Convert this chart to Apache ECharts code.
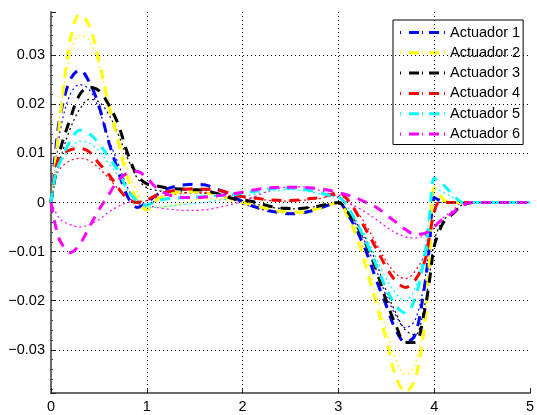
<!DOCTYPE html>
<html><head><meta charset="utf-8">
<script src="https://cdn.jsdelivr.net/npm/echarts@6/dist/echarts.min.js"></script>
<style>html,body{margin:0;padding:0;background:#fff}#c{width:537px;height:415px}</style>
</head><body><div id="c"></div>
<script>
// time samples (s)
const T = [0,0.05,0.1,0.2,0.3,0.4,0.5,0.6,0.7,0.8,0.9,
  1.0,1.1,1.2,1.3,1.4,1.5,1.6,1.7,1.8,1.9,
  2.0,2.1,2.2,2.3,2.4,2.5,2.6,2.7,2.8,2.9,
  3.0,3.1,3.2,3.3,3.4,3.5,3.6,3.7,3.8,3.9,3.95,4.0,4.05,4.1,4.2,4.3,4.4,4.5,5.0];

const names = ['Actuador 1','Actuador 2','Actuador 3','Actuador 4','Actuador 5','Actuador 6'];
const colors = ['#0000ff','#ffff00','#000000','#ff0000','#00ffff','#ff00ff'];
const xTicks = [0,1,2,3,4,5];
const yTicks = [-0.03,-0.02,-0.01,0,0.01,0.02,0.03];

// thick dash curves
const a1 = [0,0.011,0.018,0.025,0.027,0.0245,0.0197,0.0125,0.0065,0.0012,-0.001,
  0,0.0015,0.0027,0.0033,0.0036,0.0037,0.0036,0.003,0.0022,0.0012,
  0.0002,-0.0007,-0.0013,-0.0018,-0.0021,-0.0023,-0.0022,-0.0018,-0.0012,-0.0005,
  0,-0.0025,-0.006,-0.0105,-0.016,-0.021,-0.026,-0.0285,-0.027,-0.017,-0.009,0.001,0.0005,0,0,0,0,0,0];
const a2 = [0,0.009,0.018,0.033,0.0383,0.036,0.029,0.020,0.0125,0.005,0.0005,
  -0.0015,0.0005,0.0015,0.002,0.0022,0.0022,0.002,0.0017,0.0012,0.0007,
  0.0001,-0.0005,-0.001,-0.0015,-0.0018,-0.002,-0.002,-0.0017,-0.0012,-0.0005,
  0,-0.003,-0.0075,-0.014,-0.021,-0.028,-0.0355,-0.0386,-0.036,-0.025,-0.012,0.003,0.002,0.0005,0,0,0,0,0];
const a3 = [0,0.006,0.011,0.017,0.022,0.0235,0.0228,0.020,0.016,0.010,0.0055,
  0.0038,0.0034,0.003,0.0028,0.0027,0.0026,0.0025,0.002,0.0014,0.0008,
  0.0005,0.0002,-0.0003,-0.0008,-0.0011,-0.0012,-0.0012,-0.001,-0.0007,-0.0003,
  0,-0.002,-0.005,-0.009,-0.014,-0.020,-0.025,-0.0285,-0.0285,-0.022,-0.016,-0.009,-0.006,-0.004,-0.0022,-0.0005,0,0,0];
const a4 = [0,0.007,0.0095,0.0107,0.011,0.0103,0.008,0.0058,0.003,0.0008,0,
  0.0005,0.0015,0.0021,0.0025,0.0027,0.0028,0.0027,0.0026,0.0023,0.0016,
  0.0012,0.001,0.0007,0.0005,0.0004,0.0004,0.0005,0.0008,0.001,0.0015,
  0.002,0.0005,-0.0025,-0.006,-0.0095,-0.0132,-0.016,-0.0173,-0.0158,-0.012,-0.007,-0.002,0,0,0,0,0,0,0];
const a5 = [0,0.006,0.0085,0.0125,0.0147,0.014,0.012,0.0093,0.0065,0.0025,0.0003,
  -0.0005,0.0003,0.0007,0.0009,0.001,0.0011,0.0012,0.0014,0.0015,0.0016,
  0.0019,0.0022,0.0025,0.0028,0.0029,0.0029,0.0028,0.0025,0.002,0.0015,
  0.0012,-0.001,-0.0045,-0.0085,-0.013,-0.0175,-0.021,-0.0225,-0.0195,-0.011,-0.003,0.005,0.004,0.0035,0.0015,0,0,0,0];
const a6 = [0,-0.005,-0.008,-0.0102,-0.0085,-0.005,-0.0015,0.0015,0.0045,0.006,0.0063,
  0.005,0.003,0.0018,0.0012,0.001,0.001,0.0011,0.0013,0.0015,0.0018,
  0.0021,0.0025,0.0028,0.003,0.0031,0.0031,0.0031,0.003,0.0028,0.0025,
  0.002,0.0015,0.0008,-0.0001,-0.001,-0.0025,-0.004,-0.0055,-0.0065,-0.0063,-0.0058,-0.005,-0.004,-0.0033,-0.002,-0.0005,0,0,0];

// thin dotted curves
const b1 = [0,0.008,0.015,0.022,0.024,0.023,0.019,0.013,0.008,0.003,0,
  -0.0005,0.0005,0.0015,0.002,0.0025,0.0026,0.0025,0.002,0.0014,0.0006,
  -0.0002,-0.0009,-0.0014,-0.0018,-0.002,-0.0021,-0.002,-0.0016,-0.001,-0.0004,
  0,-0.002,-0.005,-0.009,-0.014,-0.019,-0.023,-0.0255,-0.024,-0.016,-0.008,0,0,0,0,0,0,0,0];
const b2 = [0,0.009,0.019,0.030,0.034,0.033,0.028,0.021,0.014,0.007,0.002,
  -0.001,-0.001,-0.0008,-0.0005,0,0.0005,0.0008,0.0008,0.0006,0.0002,
  -0.0003,-0.0008,-0.0012,-0.0015,-0.0017,-0.0018,-0.0017,-0.0014,-0.001,-0.0004,
  0,-0.002,-0.006,-0.012,-0.019,-0.026,-0.032,-0.035,-0.033,-0.023,-0.011,0.001,0.001,0,0,0,0,0,0];
const b3 = [0,0.005,0.009,0.015,0.019,0.021,0.0205,0.018,0.014,0.009,0.005,
  0.003,0.0025,0.0022,0.002,0.002,0.002,0.0019,0.0016,0.0011,0.0006,
  0.0002,-0.0002,-0.0006,-0.001,-0.0012,-0.0013,-0.0012,-0.001,-0.0007,-0.0003,
  0,-0.0018,-0.0045,-0.008,-0.0125,-0.018,-0.0225,-0.026,-0.027,-0.021,-0.015,-0.008,-0.005,-0.0035,-0.002,-0.0004,0,0,0];
const b4 = [0,0.005,0.007,0.0085,0.009,0.0085,0.007,0.005,0.0028,0.001,0.0002,
  0.0004,0.001,0.0014,0.0017,0.0019,0.002,0.002,0.0019,0.0017,0.0013,
  0.001,0.0008,0.0006,0.0004,0.0003,0.0003,0.0004,0.0006,0.0008,0.0012,
  0.0015,0.0003,-0.002,-0.005,-0.0085,-0.012,-0.0145,-0.0155,-0.014,-0.0105,-0.006,-0.0015,0,0,0,0,0,0,0];
const b5 = [0,0.005,0.008,0.011,0.0125,0.012,0.0105,0.008,0.0055,0.0025,0.0005,
  -0.001,-0.001,-0.0008,-0.0006,-0.0004,-0.0002,0,0.0003,0.0006,0.0009,
  0.0012,0.0016,0.002,0.0023,0.0025,0.0026,0.0025,0.0022,0.0018,0.0013,
  0.001,-0.001,-0.004,-0.0075,-0.0115,-0.0155,-0.0185,-0.020,-0.0175,-0.0095,-0.0025,0.003,0.0025,0.002,0.001,0,0,0,0];
const b6 = [0,-0.002,-0.0035,-0.0045,-0.005,-0.0045,-0.0035,-0.002,-0.0008,0,0.0002,
  -0.0005,-0.001,-0.0013,-0.0015,-0.0016,-0.0016,-0.0015,-0.0012,-0.0008,-0.0003,
  0.0003,0.001,0.0018,0.0025,0.003,0.0032,0.0032,0.003,0.0025,0.0018,
  0.001,0,-0.001,-0.0022,-0.0035,-0.005,-0.0062,-0.007,-0.0072,-0.0068,-0.006,-0.0052,-0.004,-0.003,-0.0015,0,0,0,0];

const dashed = [a1,a2,a3,a4,a5,a6];
const dotted = [b1,b2,b3,b4,b5,b6];
const pairs = arr => T.map((t,i) => [t, arr[i]]);

const FONT = '"Liberation Sans", Arial, sans-serif';
// dash-dot legend sample
const LEGEND_ICON = 'path://M0,0h1v3h-1z M9,0h10v3h-10z M22,0h1v3h-1z M29,0h10v3h-10z M44,0h1v3h-1z';

const series = [];
// grid lines (dotted) at tick positions
series.push({
  type: 'line', data: [], silent: true, z: 1,
  markLine: {
    silent: true, symbol: 'none', animation: false,
    label: {show: false},
    lineStyle: {color: '#000', width: 1, type: [1, 3]},
    emphasis: {disabled: true},
    data: xTicks.filter(v => v > 0 && v < 5).map(v => ({xAxis: v}))
      .concat(yTicks.map(v => ({yAxis: v})))
  }
});
dotted.forEach((arr, k) => series.push({
  name: names[k] + ' ', type: 'line', data: pairs(arr), showSymbol: false, symbol: 'none',
  smooth: 0.35, z: 2, animation: false,
  lineStyle: {color: colors[k], width: 1.2, type: [2, 3]}
}));
dashed.forEach((arr, k) => series.push({
  name: names[k], type: 'line', data: pairs(arr), showSymbol: false, symbol: 'none',
  smooth: 0.35, z: 3, animation: false,
  itemStyle: {color: colors[k]},
  lineStyle: {color: colors[k], width: 3, type: [10, 8]}
}));

const chart = echarts.init(document.getElementById('c'), null, {renderer: 'canvas'});
chart.setOption({
  animation: false,
  backgroundColor: '#fff',
  grid: {left: 51, right: 6, top: 12, bottom: 22, containLabel: false},
  xAxis: {
    type: 'value', min: 0, max: 5, interval: 1,
    axisLine: {show: true, onZero: false, lineStyle: {color: '#6a6a6a', width: 2}},
    axisTick: {show: true, inside: true, length: 5, lineStyle: {color: '#222'}},
    splitLine: {show: false},
    axisLabel: {color: '#000', fontFamily: FONT, fontSize: 14.5, margin: 6,
      formatter: v => String(Math.round(v))}
  },
  yAxis: {
    type: 'value', min: -0.0388, max: 0.0388, splitNumber: 8,
    axisLine: {show: true, onZero: false, lineStyle: {color: '#6a6a6a', width: 2}},
    axisTick: {show: true, inside: true, length: 5, lineStyle: {color: '#222'}},
    minorTick: {show: true, splitNumber: 5, length: 2, lineStyle: {color: '#444'}},
    splitLine: {show: false},
    axisLabel: {color: '#000', fontFamily: FONT, fontSize: 14.5, margin: 6,
      showMinLabel: false, showMaxLabel: false,
      formatter: v => {
        const r = Math.round(v * 100) / 100;
        if (Math.abs(r - v) > 1e-6) return '';
        if (r === 0) return '0';
        return (r < 0 ? '\u2212' : '') + Math.abs(r).toFixed(2);
      }}
  },
  legend: {
    show: true, orient: 'vertical', left: 393, top: 20,
    data: names.map(n => ({name: n, icon: LEGEND_ICON})),
    backgroundColor: '#fff', borderColor: '#000', borderWidth: 1,
    padding: [5, 3, 3, 7], itemWidth: 45, itemHeight: 14, itemGap: 5.3,
    textStyle: {color: '#000', fontFamily: FONT, fontSize: 14.5},
    selectedMode: false
  },
  series: series
});
</script></body></html>
